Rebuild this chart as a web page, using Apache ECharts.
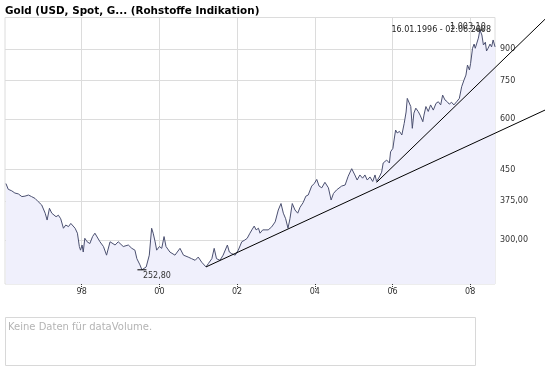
<!DOCTYPE html>
<html><head><meta charset="utf-8">
<script src="https://cdn.jsdelivr.net/npm/echarts@6/dist/echarts.min.js"></script>
<style>html,body{margin:0;padding:0;background:#fff}#c{width:545px;height:384px}</style>
</head><body><div id="c"></div>
<script>
const titleText = 'Gold (USD, Spot, G... (Rohstoffe Indikation)';
const rangeText = '16.01.1996 - 02.06.2008';
const volumeText = 'Keine Daten für dataVolume.';

const years = [1996.05,1996.07,1996.11,1996.20,1996.28,1996.37,1996.46,1996.54,1996.63,1996.71,
1996.80,1996.88,1996.97,1997.06,1997.11,1997.17,1997.23,1997.27,1997.34,1997.40,
1997.46,1997.53,1997.59,1997.66,1997.72,1997.77,1997.83,1997.89,1997.94,1997.97,
1998.01,1998.04,1998.08,1998.14,1998.21,1998.28,1998.34,1998.47,1998.56,1998.64,
1998.73,1998.86,1998.94,1999.07,1999.20,1999.29,1999.37,1999.42,1999.50,1999.55,
1999.66,1999.71,1999.74,1999.80,1999.84,1999.89,1999.93,2000.00,2000.06,2000.12,
2000.17,2000.27,2000.40,2000.53,2000.62,2000.74,2000.83,2000.92,2001.00,2001.09,
2001.20,2001.26,2001.35,2001.41,2001.47,2001.56,2001.64,2001.75,2001.80,2001.86,
2001.95,2002.03,2002.12,2002.20,2002.26,2002.33,2002.38,2002.44,2002.49,2002.55,
2002.59,2002.66,2002.72,2002.80,2002.89,2002.98,2003.06,2003.13,2003.19,2003.25,
2003.31,2003.36,2003.42,2003.49,2003.56,2003.62,2003.70,2003.77,2003.83,2003.92,
2003.99,2004.05,2004.11,2004.18,2004.26,2004.35,2004.42,2004.48,2004.56,2004.60,
2004.69,2004.78,2004.86,2004.95,2005.03,2005.09,2005.16,2005.23,2005.29,2005.35,
2005.42,2005.49,2005.55,2005.59,2005.66,2005.72,2005.76,2005.85,2005.92,2005.95,
2006.01,2006.04,2006.08,2006.12,2006.18,2006.24,2006.30,2006.35,2006.38,2006.42,
2006.47,2006.51,2006.55,2006.60,2006.66,2006.71,2006.78,2006.81,2006.86,2006.92,
2006.98,2007.05,2007.12,2007.18,2007.24,2007.29,2007.35,2007.41,2007.46,2007.52,
2007.58,2007.65,2007.72,2007.78,2007.84,2007.89,2007.93,2007.98,2008.01,2008.06,
2008.10,2008.13,2008.17,2008.21,2008.25,2008.30,2008.34,2008.39,2008.42,2008.46,
2008.51,2008.55,2008.59,2008.64];

const prices = [415,411,401.5,398,393,391,385,386,388.5,385,
381,374,367,350,336.5,360,350,353,343,346,
339,321,327,324,330,333,321,312,289,283,
291.5,280,303,297,294,306,312,297,289,275,
297,291.5,297,289,291.5,286,283,269.5,260,252.8,
257,254.5,275,321,312,297,283,289,286,306,
289,280,275,286,275,272,269.5,267,272,264,
257,262,269.5,286,269.5,267,275,291.5,280,277.5,
275,283,297,300,303,312,318,325,318,321,
312,318,318,318,323.5,333,356.5,370,350,339,
321,339,370,356.5,350,362,372,386,388.5,409,
415.5,425,409,405,418,405,377.5,392,400,396,
409,411.5,433,452,436,423.5,436,428,436,423.5,
431,420,436,420,431,443,467,475,467,498,
508,533,564.5,555,560,548.5,586,626,677,684,
646,570,622,640,628,615,592,615,646,628,
652,633,658,664,652,690,671,664,655,662,
652,664,677,724,752,774,820,797,828,903,
925,903,910,957,1003.1,974.5,920,935,889,903,
925,910,947,910];

const xTickValues = [1998,2000,2002,2004,2006,2008];
const xTickLabels = ['98','00','02','04','06','08'];
const yTickValues = [300,375,450,600,750,900];
const yTickLabels = ['300,00','375,00','450','600','750','900'];

const trend1Years = [2001.20, 2009.93];
const trend1Prices = [257, 633.3];
const trend2Years = [2005.59, 2009.93];
const trend2Prices = [417.9, 1068];

function deNum(v){
  const s = v.toFixed(2).split('.');
  return s[0].replace(/\B(?=(\d{3})+(?!\d))/g,'.') + ',' + s[1];
}
const FONT = '"DejaVu Sans", Verdana, sans-serif';
const X_MIN = 1996.026, X_MAX = 2008.638, Y_MIN = 233, Y_MAX = 1077.6;
// overlay axis spans the full width to the right edge of the picture, same scale
const X_MAX_FULL = X_MIN + (X_MAX - X_MIN) * 540 / 490;

const chart = echarts.init(document.getElementById('c'), null, {renderer:'canvas'});
const option = {
  animation: false,
  grid: [
    {left:5, right:50, top:17.5, bottom:100, show:true, borderColor:'#dcdcdc', borderWidth:1, backgroundColor:'transparent'},
    {left:5, right:0, top:17.5, bottom:100, show:false}
  ],
  xAxis: [{
    type:'value', min:X_MIN, max:X_MAX, gridIndex:0,
    axisLine:{show:false},
    axisTick:{show:true, customValues:xTickValues, length:5, lineStyle:{color:'#333', type:'dotted'}},
    axisLabel:{customValues:xTickValues, fontSize:8, fontFamily:FONT, color:'#333', margin:4,
      formatter:v=>{const i=xTickValues.findIndex(t=>Math.abs(t-v)<0.01); return i<0?'':xTickLabels[i];}},
    splitLine:{show:true, lineStyle:{color:'#dcdcdc', width:1}}
  },{
    type:'value', min:X_MIN, max:X_MAX_FULL, gridIndex:1, show:false
  }],
  yAxis: [{
    type:'log', logBase:10, position:'right', min:Y_MIN, max:Y_MAX, gridIndex:0,
    axisLine:{show:false},
    axisTick:{show:false, customValues:yTickValues},
    axisLabel:{customValues:yTickValues, fontSize:8, fontFamily:FONT, color:'#333', margin:5,
      formatter:v=>{const i=yTickValues.findIndex(t=>Math.abs(t-v)<0.01*t); return i<0?'':yTickLabels[i];}},
    splitLine:{show:true, lineStyle:{color:'#dcdcdc', width:1}}
  },{
    type:'log', logBase:10, min:Y_MIN, max:Y_MAX, gridIndex:1, show:false
  }],
  series: [
    {
      type:'line', data: years.map((y,i)=>[y,prices[i]]), symbol:'none', z:2,
      lineStyle:{color:'#4b5070', width:1},
      areaStyle:{color:'#f0f0fc', origin:'start', opacity:1},
      markPoint:{
        symbol:'rect', symbolSize:[9,1], itemStyle:{color:'#000'},
        data:[
          {type:'min', valueDim:'y', label:{show:true, position:'bottom', distance:2, offset:[15,0], formatter:p=>deNum(p.value), fontSize:8, fontFamily:FONT, color:'#333'}},
          {type:'max', valueDim:'y', label:{show:true, position:'top', distance:0, offset:[-12,1], formatter:p=>deNum(p.value), fontSize:8, fontFamily:FONT, color:'#333'}}
        ]
      }
    },
    {type:'line', xAxisIndex:1, yAxisIndex:1, data: trend1Years.map((y,i)=>[y,trend1Prices[i]]), symbol:'none', clip:false, z:3,
      lineStyle:{color:'#000', width:1}},
    {type:'line', xAxisIndex:1, yAxisIndex:1, data: trend2Years.map((y,i)=>[y,trend2Prices[i]]), symbol:'none', clip:false, z:3,
      lineStyle:{color:'#000', width:1}}
  ],
  graphic: [
    {type:'text', x:5, y:11, style:{text:titleText, font:'bold 10.4px '+FONT, fill:'#000', verticalAlign:'middle'}},
    {type:'text', x:491, y:30, z:10, style:{text:rangeText, font:'8px '+FONT, fill:'#222', align:'right', verticalAlign:'middle'}},
    {type:'rect', shape:{x:5.5, y:317.5, width:470, height:48}, style:{fill:'#fff', stroke:'#d8d8d8', lineWidth:1}},
    {type:'text', x:8, y:327, style:{text:volumeText, font:'10px '+FONT, fill:'#b4b4b4', verticalAlign:'middle'}}
  ]
};
chart.setOption(option);
</script></body></html>
